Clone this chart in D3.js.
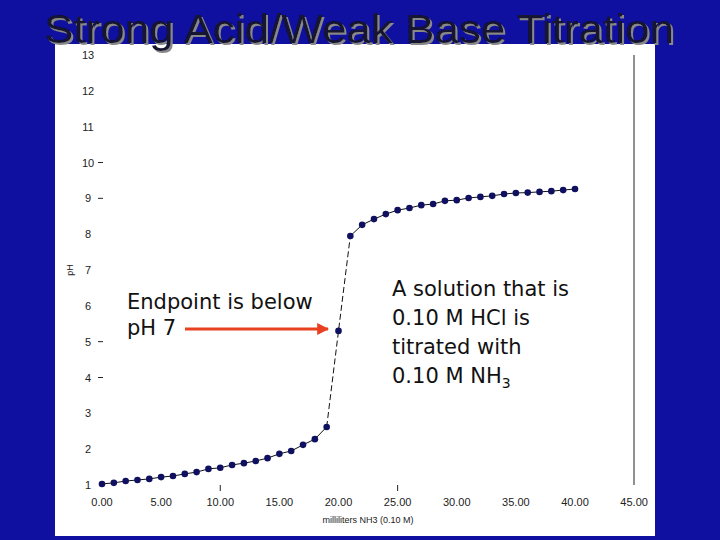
<!DOCTYPE html>
<html><head><meta charset="utf-8">
<script src="https://cdn.jsdelivr.net/npm/d3@7"></script>
<style>body{margin:0;background:#1010a0}</style></head>
<body><svg id="c" width="720" height="540"></svg>
<script>
const volumes = d3.range(0, 41);
const phValues = [1.03,1.06,1.11,1.14,1.17,1.22,1.25,1.31,1.36,1.45,1.48,1.56,1.61,1.67,1.75,1.87,1.95,2.12,2.28,2.62,
  5.3,7.95,8.26,8.42,8.56,8.67,8.73,8.81,8.84,8.93,8.95,9.01,9.04,9.07,9.12,9.15,9.16,9.18,9.2,9.23,9.26];
const xTicks = [0,5,10,15,20,25,30,35,40,45];
const yTicks = d3.range(1, 14);
const data = volumes.map((v, i) => ({v, ph: phValues[i]}));

const svg = d3.select('#c');
const defs = svg.append('defs');
defs.append('filter').attr('id','sh').append('feDropShadow')
  .attr('dx',2).attr('dy',2).attr('stdDeviation',0.5).attr('flood-color','#888');
svg.append('rect').attr('width',720).attr('height',540).attr('fill','#1010a0');
svg.append('rect').attr('x',55).attr('y',44).attr('width',600).attr('height',492).attr('fill','#fff');

const x = d3.scaleLinear().domain([0,40]).range([102,575]);
const y = d3.scaleLinear().domain([1,13]).range([485,55]);

svg.selectAll('.xl').data(xTicks).join('text')
  .attr('x', d => x(d)).attr('y', 506).attr('text-anchor','middle')
  .attr('font-family','Arial').attr('font-size',11).attr('fill','#222')
  .text(d => d.toFixed(2));
svg.selectAll('.yl').data(yTicks).join('text')
  .attr('x', 88).attr('y', d => y(d) + 4).attr('text-anchor','middle')
  .attr('font-family','Arial').attr('font-size',11).attr('fill','#222')
  .text(d => d);
svg.selectAll('.yt').data([4,5,9,10]).join('line')
  .attr('x1',98).attr('x2',103).attr('y1', d => y(d)).attr('y2', d => y(d)).attr('stroke','#222');
svg.selectAll('.xt').data([10,25]).join('line')
  .attr('x1', d => x(d)).attr('x2', d => x(d)).attr('y1',485).attr('y2',491).attr('stroke','#222');
svg.append('line').attr('x1',634).attr('x2',634).attr('y1',55).attr('y2',485).attr('stroke','#222');

svg.append('text').attr('transform','translate(73,270) rotate(-90)').attr('text-anchor','middle')
  .attr('font-family','Arial').attr('font-size',9).attr('fill','#222').text('pH');
svg.append('text').attr('x',368).attr('y',523).attr('text-anchor','middle')
  .attr('font-family','Arial').attr('font-size',9).attr('fill','#222').text('milliliters NH3 (0.10 M)');

const line = d3.line().x(d => x(d.v)).y(d => y(d.ph));
svg.append('path').datum(data.slice(0,20)).attr('d',line).attr('fill','none').attr('stroke','#111').attr('stroke-width',1);
svg.append('path').datum(data.slice(19,22)).attr('d',line).attr('fill','none').attr('stroke','#111').attr('stroke-width',1).attr('stroke-dasharray','6,3');
svg.append('path').datum(data.slice(21)).attr('d',line).attr('fill','none').attr('stroke','#111').attr('stroke-width',1);
svg.selectAll('circle').data(data).join('circle')
  .attr('cx', d => x(d.v)).attr('cy', d => y(d.ph)).attr('r',3.3).attr('fill','#101060');

const comic = "'Comic Sans MS','DejaVu Sans',sans-serif";
svg.append('text').attr('font-family',comic).attr('font-size',21).attr('fill','#111')
  .selectAll('tspan').data(['Endpoint is below','pH 7']).join('tspan')
  .attr('x',127).attr('y',(d,i)=>309+i*26).text(d=>d);
const note = svg.append('text').attr('font-family',comic).attr('font-size',21).attr('fill','#111');
note.selectAll('tspan').data(['A solution that is','0.10 M HCl is','titrated with']).join('tspan')
  .attr('x',392).attr('y',(d,i)=>296+i*29).text(d=>d);
const t4 = svg.append('text').attr('font-family',comic).attr('font-size',21).attr('fill','#111').attr('x',392).attr('y',383);
t4.append('tspan').text('0.10 M NH');
t4.append('tspan').attr('font-size',14).attr('dy',5).text('3');

defs.append('marker').attr('id','ah').attr('viewBox','0 0 10 10').attr('refX',9).attr('refY',5)
  .attr('markerWidth',4).attr('markerHeight',4).attr('orient','auto')
  .append('path').attr('d','M0,0L10,5L0,10z').attr('fill','#e84020');
svg.append('line').attr('x1',185).attr('x2',328).attr('y1',329).attr('y2',329)
  .attr('stroke','#e84020').attr('stroke-width',3).attr('marker-end','url(#ah)');

svg.append('text').attr('x',44).attr('y',43).attr('font-family','Arial')
  .attr('font-size',40).attr('textLength',630).attr('lengthAdjust','spacingAndGlyphs')
  .attr('fill','#121230').attr('filter','url(#sh)').text('Strong Acid/Weak Base Titration');
</script></body></html>
